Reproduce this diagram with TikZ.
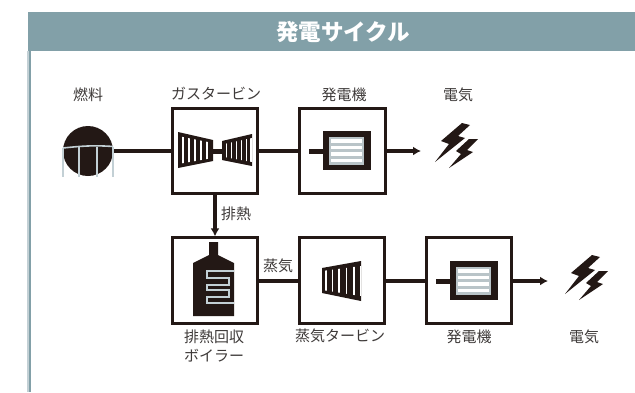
\documentclass[tikz,border=0pt]{standalone}
\usepackage{fontspec}
\setmainfont{Noto Sans CJK JP}
\usetikzlibrary{arrows.meta}
\definecolor{inkblack}{HTML}{231815}
\definecolor{headteal}{HTML}{82A0A8}
\definecolor{coilgrey}{HTML}{C3D0D5}
\definecolor{textgrey}{HTML}{3E3A39}
\tikzset{
  unitbox/.style={draw=inkblack, line width=2.8pt, minimum size=85.5pt, inner sep=0, fill=white},
  pipe/.style={draw=inkblack, line width=3.2pt},
  flowtip/.style={-{Latex[length=8pt,width=9pt]}},
  captiontext/.style={text=textgrey, font=\fontsize{15}{18.5}\selectfont, inner sep=0, align=center},
  gapline/.style={white, line width=1.2pt},
}
\begin{document}
\begin{tikzpicture}[x=1pt, y=-1pt]
\useasboundingbox (0,0) rectangle (635,392);
% Frame and header
\fill[coilgrey] (27,51) rectangle (28.5,392);
\fill[headteal] (28.5,51) rectangle (31,392);
\fill[headteal] (28,12) rectangle (635,51);
\node[white, font=\fontsize{22.5}{26}\selectfont\bfseries, inner sep=0] (title) at (343,32) {発電サイクル};
% Boxes
\node[unitbox] (gt) at (215,151) {};
\node[unitbox] (gen1) at (342.5,151) {};
\node[unitbox] (boiler) at (215,280.5) {};
\node[unitbox] (st) at (342,280.5) {};
\node[unitbox] (gen2) at (469,280.5) {};
\node[circle, fill=inkblack, minimum size=50pt, inner sep=0] (fuel) at (88,151) {};
\coordinate (power1) at (421,151);
\coordinate (power2) at (548,281);
% Arrows
\draw[pipe] (fuel)--(gt);
\draw[pipe] (gt)--(gen1);
\draw[pipe, flowtip] (gen1)--(power1);
\draw[pipe, flowtip] (gt)--(boiler);
\draw[pipe] (boiler.east |- 0,281)--(st.west |- 0,281);
\draw[pipe] (st.east |- 0,281)--(gen2.west |- 0,281);
\draw[pipe, flowtip] (gen2.east |- 0,281)--(power2);
% Fuel tank legs
\draw[coilgrey, line width=1.6pt] (63,148) to [out=6,in=176] (113,146.5);
\draw[coilgrey, line width=1.6pt] (63,148)--(63,177);
\draw[coilgrey, line width=1.6pt] (79,147)--(79,177);
\draw[coilgrey, line width=1.6pt] (97,146.5)--(97,177);
\draw[coilgrey, line width=1.6pt] (113,146.5)--(113,177);
% Gas turbine
\fill[inkblack] (178,132)--(213,140)--(213,161)--(178,168)--cycle;
\fill[inkblack] (213,148.5)--(222,148.5)--(222,153.5)--(213,153.5)--cycle;
\fill[inkblack] (222,141)--(252,134)--(252,166)--(222,160)--cycle;
\begin{scope}
\clip (178,136)--(213,143)--(213,158)--(178,164)--cycle;
\foreach \gx in {183,189,195,201,207}
  \draw[gapline] (\gx,130)--(\gx,170);
\end{scope}
\begin{scope}
\clip (224,144)--(252,138)--(252,162)--(224,157)--cycle;
\foreach \gx in {226.5,231.5,236.5,241.5,246.5,251}
  \draw[gapline] (\gx,130)--(\gx,170);
\end{scope}
% Steam turbine
\fill[inkblack] (322,268)--(361,261)--(361,301)--(322,293)--cycle;
\begin{scope}
\clip (322,271)--(361,266)--(361,296)--(322,290)--cycle;
\foreach \gx in {326,332.5,339,346.5,354,360.5}
  \draw[gapline] (\gx,255)--(\gx,305);
\end{scope}
% Generators
\foreach \dx/\dy in {0/0,127/130}{
  \begin{scope}[shift={(\dx,\dy)}]
  \fill[inkblack] (309,148.5) rectangle (323,153.5);
  \fill[inkblack] (323,131) rectangle (371,170);
  \fill[coilgrey!85!gray] (329,137) rectangle (364,165);
  \foreach \gy in {139,145.5,152,158.5}
    \fill[white] (331,\gy) rectangle (362,\gy+3.5);
  \end{scope}
}
% Boiler
\fill[inkblack] (209,242)--(218,242)--(218,255)--(234,263)--(234,316)--(193,316)--(193,263)--(209,255)--cycle;
\draw[coilgrey, line width=1.5pt] (234,271)--(207,271)--(207,278)--(229,278)--(229,285)--(207,285)--(207,290)--(229,290)--(229,297)--(207,297)--(207,303)--(234,303);
% Bolts
\foreach \dx/\dy in {0/0,130/132}{
  \begin{scope}[shift={(\dx,\dy)}]
  \fill[inkblack] (462,123)--(470,125)--(458,136)--(465,138)--(435,162)--(449,144)--(441,141)--cycle;
  \fill[inkblack] (469,139)--(478,139)--(467,150)--(473,152)--(449,168)--(461,154)--(456,151)--cycle;
  \end{scope}
}
% Labels
\node[captiontext] (lfuel) at (88,95) {燃料};
\node[captiontext] (lgt) at (216,94) {ガスタービン};
\node[captiontext] (lgen1) at (344,95) {発電機};
\node[captiontext] (lpower1) at (458,95) {電気};
\node[captiontext] (lheat) at (236,214) {排熱};
\node[captiontext] (lsteam) at (278,266) {蒸気};
\node[captiontext] (lboiler) at (214,346) {排熱回収\\ボイラー};
\node[captiontext] (lst) at (340,336) {蒸気タービン};
\node[captiontext] (lgen2) at (469,337) {発電機};
\node[captiontext] (lpower2) at (584,337) {電気};
\end{tikzpicture}
\end{document}
